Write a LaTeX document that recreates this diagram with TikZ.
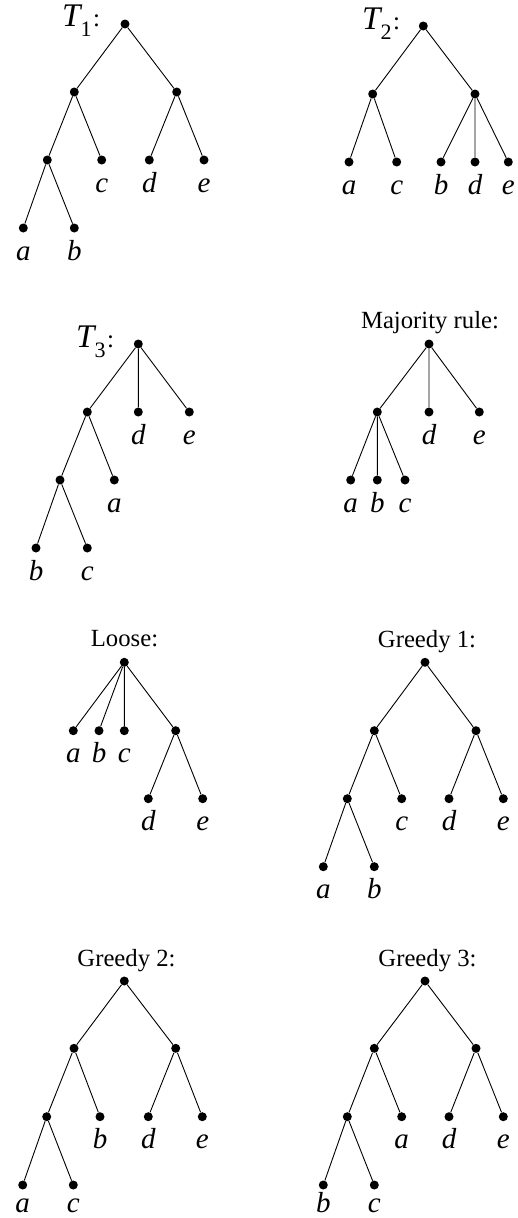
\documentclass[tikz,border=0pt]{standalone}
\usepackage{fontspec}
\setmainfont{Liberation Serif}
\tikzset{
  dot/.style={circle,fill=black,inner sep=0pt,minimum size=9pt},
  edge/.style={line width=0.9pt},
  lbl/.style={anchor=base,inner sep=0pt,font=\fontsize{29}{32}\selectfont\itshape},
  ttl/.style={anchor=base,inner sep=0pt,font=\fontsize{24.7}{28}\selectfont},
  tlab/.style={anchor=base west,inner sep=0pt}
}
\newcommand\leaf[4]{\node[dot] (#1) at (#2,#3) {}; \node[lbl] (#1-l) at (#2,#3+32) {#4};}
\newcommand\leafb[4]{\node[dot] (#1) at (#2,#3) {}; \node[lbl] (#1-l) at (#2,#3+27.5) {#4};}
\newcommand\inner[3]{\node[dot] (#1) at (#2,#3) {};}
\newcommand\tname[1]{{\fontsize{33}{36}\selectfont\itshape T}\raisebox{-10pt}{\fontsize{22}{24}\selectfont #1}\kern1.5pt{\fontsize{25}{28}\selectfont:}}
\begin{document}
\begin{tikzpicture}[x=1pt,y=-1pt]
\useasboundingbox (0,0) rectangle (518,1218);
% ---------- T1 ----------
\node[tlab] (t1) at (62,26.7) {\tname{1}};
\inner{a1r}{125}{24}
\inner{a1L}{74.3}{92}
\inner{a1R}{176.7}{92}
\inner{a1LL}{47.3}{160}
\leaf{a1c}{101.7}{160}{c}
\leaf{a1d}{149.3}{160}{d}
\leaf{a1e}{204}{160}{e}
\leaf{a1a}{23.3}{228}{a}
\leaf{a1b}{74.3}{228}{b}
\draw[edge] (a1r)--(a1L) (a1r)--(a1R) (a1L)--(a1LL) (a1L)--(a1c) (a1R)--(a1d) (a1R)--(a1e) (a1LL)--(a1a) (a1LL)--(a1b);
% ---------- T2 ----------
\node[tlab] (t2) at (362,29) {\tname{2}};
\inner{a2r}{423.3}{26}
\inner{a2L}{372.7}{94}
\inner{a2R}{475}{94}
\leaf{a2a}{349}{162}{a}
\leaf{a2c}{396.7}{162}{c}
\leaf{a2b}{441}{162}{b}
\leaf{a2d}{475}{162}{d}
\leaf{a2e}{508.3}{162}{e}
\draw[edge] (a2r)--(a2L) (a2r)--(a2R) (a2L)--(a2a) (a2L)--(a2c) (a2R)--(a2b) (a2R)--(a2d) (a2R)--(a2e);
% ---------- T3 ----------
\node[tlab] (t3) at (76,347.5) {\tname{3}};
\inner{a3r}{138.3}{344}
\inner{a3L}{87.3}{412}
\leaf{a3d}{138.3}{412}{d}
\leaf{a3e}{189.3}{412}{e}
\inner{a3LL}{60}{480}
\leaf{a3a}{114.3}{480}{a}
\leaf{a3b}{36}{548}{b}
\leaf{a3c}{87.3}{548}{c}
\draw[edge] (a3r)--(a3L) (a3r)--(a3d) (a3r)--(a3e) (a3L)--(a3LL) (a3L)--(a3a) (a3LL)--(a3b) (a3LL)--(a3c);
% ---------- Majority rule ----------
\node[ttl] (tm) at (430,328.3) {Majority rule:};
\inner{mr}{429}{344}
\inner{mL}{377.3}{412}
\leaf{md}{429}{412}{d}
\leaf{me}{479.3}{412}{e}
\leaf{ma}{350.7}{480}{a}
\leaf{mb}{377.3}{480}{b}
\leaf{mc}{405}{480}{c}
\draw[edge] (mr)--(mL) (mr)--(md) (mr)--(me) (mL)--(ma) (mL)--(mb) (mL)--(mc);
% ---------- Loose ----------
\node[ttl] (tl) at (124.5,646) {Loose:};
\inner{lr}{124.3}{662.3}
\leaf{la}{73.3}{730.7}{a}
\leaf{lb}{99}{730.7}{b}
\leaf{lc}{124.3}{730.7}{c}
\inner{lR}{175.7}{730.7}
\leaf{ld}{148.3}{798.7}{d}
\leaf{le}{202.7}{798.7}{e}
\draw[edge] (lr)--(la) (lr)--(lb) (lr)--(lc) (lr)--(lR) (lR)--(ld) (lR)--(le);
% ---------- Greedy 1 ----------
\node[ttl] (tg1) at (427,647) {Greedy 1:};
\inner{g1r}{425}{662.3}
\inner{g1L}{374.3}{730.7}
\inner{g1R}{476}{730.7}
\inner{g1LL}{347.3}{798.7}
\leaf{g1c}{401.7}{798.7}{c}
\leaf{g1d}{449}{798.7}{d}
\leaf{g1e}{503.3}{798.7}{e}
\leaf{g1a}{323.3}{866.7}{a}
\leaf{g1b}{374.3}{866.7}{b}
\draw[edge] (g1r)--(g1L) (g1r)--(g1R) (g1L)--(g1LL) (g1L)--(g1c) (g1R)--(g1d) (g1R)--(g1e) (g1LL)--(g1a) (g1LL)--(g1b);
% ---------- Greedy 2 ----------
\node[ttl] (tg2) at (126.5,966.7) {Greedy 2:};
\inner{g2r}{124.3}{981}
\inner{g2L}{74}{1048.3}
\inner{g2R}{175.7}{1048.3}
\inner{g2LL}{46.7}{1116.7}
\leaf{g2b}{100}{1116.7}{b}
\leaf{g2d}{148.3}{1116.7}{d}
\leaf{g2e}{202.3}{1116.7}{e}
\leafb{g2a}{22.7}{1185}{a}
\leafb{g2c}{73.3}{1185}{c}
\draw[edge] (g2r)--(g2L) (g2r)--(g2R) (g2L)--(g2LL) (g2L)--(g2b) (g2R)--(g2d) (g2R)--(g2e) (g2LL)--(g2a) (g2LL)--(g2c);
% ---------- Greedy 3 ----------
\node[ttl] (tg3) at (427.5,966.7) {Greedy 3:};
\inner{g3r}{425}{981}
\inner{g3L}{374.3}{1048.3}
\inner{g3R}{476}{1048.3}
\inner{g3LL}{347.3}{1116.7}
\leaf{g3a}{401.7}{1116.7}{a}
\leaf{g3d}{449}{1116.7}{d}
\leaf{g3e}{503.3}{1116.7}{e}
\leafb{g3b}{323.3}{1185}{b}
\leafb{g3c}{374.3}{1185}{c}
\draw[edge] (g3r)--(g3L) (g3r)--(g3R) (g3L)--(g3LL) (g3L)--(g3a) (g3R)--(g3d) (g3R)--(g3e) (g3LL)--(g3b) (g3LL)--(g3c);
\end{tikzpicture}
\end{document}
